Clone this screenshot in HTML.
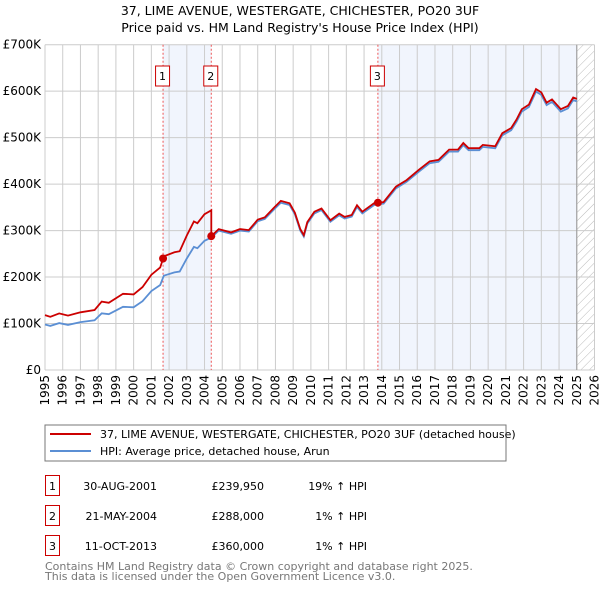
<!DOCTYPE html>
<html><head><meta charset="utf-8"><style>
body{margin:0;background:#fff;width:600px;height:590px;overflow:hidden;font-family:"Liberation Sans","DejaVu Sans",sans-serif}
</style></head><body>
<svg id="chart" width="600" height="590" font-family="DejaVu Sans, Liberation Sans, sans-serif">
<text x="300" y="15" text-anchor="middle" font-size="12.5">37, LIME AVENUE, WESTERGATE, CHICHESTER, PO20 3UF</text>
<text x="300" y="32" text-anchor="middle" font-size="12.5">Price paid vs. HM Land Registry's House Price Index (HPI)</text>
<defs><pattern id="hatch" width="6" height="6" patternUnits="userSpaceOnUse" patternTransform="rotate(45)"><line x1="0" y1="0" x2="0" y2="6" stroke="#bbb" stroke-width="1"/></pattern></defs>
<g id="grid"></g><g id="marks"></g><g id="axes"></g>
<rect x="45" y="425" width="461" height="36" fill="#fff" stroke="#777"/>
<line x1="50" y1="434" x2="91" y2="434" stroke="#cc0000" stroke-width="2"/>
<text x="100" y="438" font-size="11">37, LIME AVENUE, WESTERGATE, CHICHESTER, PO20 3UF (detached house)</text>
<line x1="50" y1="451" x2="91" y2="451" stroke="#5b8fd4" stroke-width="2"/>
<text x="100" y="455" font-size="11">HPI: Average price, detached house, Arun</text>
<g font-size="11">
<rect x="45.5" y="475.5" width="14" height="20" fill="none" stroke="#cc0000"/><text x="52.5" y="490" text-anchor="middle">1</text>
<text x="157" y="490" text-anchor="end">30-AUG-2001</text><text x="264" y="490" text-anchor="end">£239,950</text><text x="367" y="490" text-anchor="end">19% ↑ HPI</text>
<rect x="45.5" y="505.5" width="14" height="20" fill="none" stroke="#cc0000"/><text x="52.5" y="520" text-anchor="middle">2</text>
<text x="157" y="520" text-anchor="end">21-MAY-2004</text><text x="264" y="520" text-anchor="end">£288,000</text><text x="367" y="520" text-anchor="end">1% ↑ HPI</text>
<rect x="45.5" y="535.5" width="14" height="20" fill="none" stroke="#cc0000"/><text x="52.5" y="550" text-anchor="middle">3</text>
<text x="157" y="550" text-anchor="end">11-OCT-2013</text><text x="264" y="550" text-anchor="end">£360,000</text><text x="367" y="550" text-anchor="end">1% ↑ HPI</text>
</g>
<text x="45" y="570" font-size="11" fill="#777">Contains HM Land Registry data © Crown copyright and database right 2025.</text>
<text x="45" y="580" font-size="11" fill="#777">This data is licensed under the Open Government Licence v3.0.</text>
</svg>
<script>
const hpiYears=[1995.0,1995.3,1995.8,1996.3,1997.0,1997.8,1998.2,1998.6,1999.4,2000.0,2000.5,2001.0,2001.5,2001.7,2002.3,2002.6,2003.0,2003.4,2003.6,2004.0,2004.38,2004.8,2005.5,2006.0,2006.5,2007.0,2007.4,2007.9,2008.3,2008.8,2009.1,2009.4,2009.6,2009.8,2010.2,2010.6,2011.1,2011.6,2011.9,2012.3,2012.6,2012.9,2013.6,2014.1,2014.8,2015.4,2016.1,2016.7,2017.2,2017.8,2018.3,2018.6,2018.9,2019.5,2019.7,2020.4,2020.8,2021.3,2021.6,2021.9,2022.3,2022.7,2023.0,2023.3,2023.6,2024.1,2024.5,2024.8,2025.0];
const hpiValues=[98,95,101,97,103,107,122,120,136,135,148,170,183,203,210,212,240,265,262,278,285,300,293,300,298,320,325,345,360,355,335,300,287,315,337,344,319,333,326,330,351,337,356,358,391,405,427,445,448,470,470,484,473,473,480,477,505,516,534,556,566,599,592,570,577,556,563,581,578];
const saleYears=[2001.66,2004.38,2013.78];
const salePrices=[239.95,288,360];
const saleLabels=["1","2","3"];
const yTicks=[0,100,200,300,400,500,600,700];
const yTickLabels=["£0","£100K","£200K","£300K","£400K","£500K","£600K","£700K"];
const xTicks=[1995,1996,1997,1998,1999,2000,2001,2002,2003,2004,2005,2006,2007,2008,2009,2010,2011,2012,2013,2014,2015,2016,2017,2018,2019,2020,2021,2022,2023,2024,2025,2026];
const NS="http://www.w3.org/2000/svg";
const X0=45,X1=594.5,Y0=370,Y1=44.7;
const xs=t=>X0+(t-1995)/31*(X1-X0);
const ys=v=>Y0-(v/700)*(Y0-Y1);
function mk(tag,attrs,parent){const e=document.createElementNS(NS,tag);for(const k in attrs)e.setAttribute(k,attrs[k]);parent.appendChild(e);return e;}
const grid=document.getElementById('grid'),marks=document.getElementById('marks'),axes=document.getElementById('axes');
// shaded bands
for(let i=0;i<saleYears.length;i+=2){
  const a=saleYears[i],b=i+1<saleYears.length?saleYears[i+1]:2025;
  const r=mk('rect',{x:xs(a),y:Y1,width:xs(b)-xs(a),height:Y0-Y1,fill:'#eef3fc',opacity:0.8},grid);
  
  
}
const h=mk('rect',{x:xs(2025),y:Y1,width:X1-xs(2025),height:Y0-Y1,fill:'url(#hatch)'},grid);


yTicks.forEach((v,i)=>{
  const l=mk('line',{x1:X0,x2:X1,y1:ys(v),y2:ys(v),stroke:'#ccc'},grid);
  
  
  const t=mk('text',{x:X0-4,y:ys(v)+4,'text-anchor':'end','font-size':12},axes);
  t.textContent=yTickLabels[i];
  
  
});
xTicks.forEach(y=>{
  const l=mk('line',{x1:xs(y),x2:xs(y),y1:Y1,y2:Y0,stroke:'#ccc'},grid);
  
  
  const t=mk('text',{x:0,y:0,'text-anchor':'end','font-size':12,transform:`translate(${xs(y)+4},${Y0+5}) rotate(-90)`},axes);
  t.textContent=y;
  
  
});
const ax=mk('line',{x1:xs(2025),x2:xs(2025),y1:Y1,y2:Y0,stroke:'#999'},grid);


// sale markers
saleYears.forEach((s,i)=>{
  const l=mk('line',{x1:xs(s),x2:xs(s),y1:Y1,y2:Y0,stroke:'#e55','stroke-dasharray':'2,2'},marks);
  
  
  const r=mk('rect',{x:xs(s)-7.5,y:66,width:14,height:20,fill:'#fff',stroke:'#cc0000'},marks);
  
  
  const t=mk('text',{x:xs(s)-0.5,y:80,'text-anchor':'middle','font-size':11},marks);
  t.textContent=saleLabels[i];
  
  
});
function hpiAt(t){for(let i=1;i<hpiYears.length;i++){if(t<=hpiYears[i]){const f=(t-hpiYears[i-1])/(hpiYears[i]-hpiYears[i-1]);return hpiValues[i-1]+f*(hpiValues[i]-hpiValues[i-1]);}}return hpiValues[hpiValues.length-1];}
const ratios=saleYears.map((s,i)=>salePrices[i]/hpiAt(s));
function ratioAt(t){let r=ratios[0];saleYears.forEach((s,i)=>{if(t>=s)r=ratios[i];});return r;}
const blue=hpiYears.map((t,i)=>`${xs(t).toFixed(1)},${ys(hpiValues[i]).toFixed(1)}`).join(' ');
const bl=mk('polyline',{points:blue,fill:'none',stroke:'#5b8fd4','stroke-width':1.8},marks);


let redPts=[];
const allT=[...hpiYears,...saleYears].sort((a,b)=>a-b);
allT.forEach(t=>{
  saleYears.forEach((s,i)=>{if(Math.abs(t-s)<1e-9&&i>0){redPts.push([t,hpiAt(t)*ratios[i-1]]);}});
  redPts.push([t,hpiAt(t)*ratioAt(t)]);
});
const rl=mk('polyline',{points:redPts.map(p=>`${xs(p[0]).toFixed(1)},${ys(p[1]).toFixed(1)}`).join(' '),fill:'none',stroke:'#cc0000','stroke-width':1.8},marks);


saleYears.forEach((s,i)=>{
  const c=mk('circle',{cx:xs(s),cy:ys(salePrices[i]),r:4,fill:'#cc0000'},marks);
  
  
});
</script>
</body></html>
